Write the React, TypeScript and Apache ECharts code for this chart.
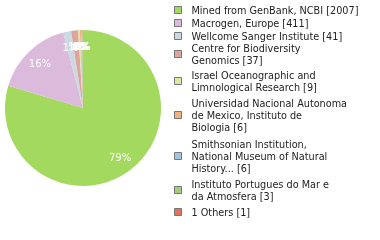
import React, { useEffect, useRef } from "react";
import * as echarts from "echarts";

const categories = [
  "Mined from GenBank, NCBI",
  "Macrogen, Europe",
  "Wellcome Sanger Institute",
  "Centre for Biodiversity\nGenomics",
  "Israel Oceanographic and\nLimnological Research",
  "Universidad Nacional Autonoma\nde Mexico, Instituto de\nBiologia",
  "Smithsonian Institution,\nNational Museum of Natural\nHistory...",
  "Instituto Portugues do Mar e\nda Atmosfera",
  "1 Others",
];
const values = [2007, 411, 41, 37, 9, 6, 6, 3, 1];
const colors = [
  "#a2d95e",
  "#dcbadc",
  "#cad9e4",
  "#dea59b",
  "#dde6a2",
  "#f2b07b",
  "#a4c4e6",
  "#a3cc7b",
  "#de7459",
];
const legendTops = [4, 17, 30, 42, 69, 97, 138, 178, 206];

export default function App() {
  const ref = useRef<HTMLDivElement>(null);
  useEffect(() => {
    if (!ref.current) return;
    const chart = echarts.init(ref.current, undefined, { renderer: "svg" });
    const data = categories.map((n, i) => ({
      name: n,
      value: values[i],
      itemStyle: { color: colors[i] },
    }));
    const legends = categories.map((n, i) => ({
      orient: "vertical",
      left: 174,
      top: legendTops[i],
      padding: 0,
      data: [n],
      selectedMode: false,
      icon: "rect",
      itemWidth: 7,
      itemHeight: 7,
      itemStyle: { borderColor: "#777", borderWidth: 1 },
      formatter: (name: string) => `${name} [${values[categories.indexOf(name)]}]`,
      textStyle: {
        fontFamily: "DejaVu Sans",
        fontSize: 9.7,
        color: "#222",
        lineHeight: 12,
        align: "left",
        padding: [0, 0, 0, 5],
      },
    }));
    chart.setOption({
      animation: false,
      legend: legends,
      series: [
        {
          type: "pie",
          center: [83, 108],
          radius: [0, 78],
          startAngle: 90,
          clockwise: true,
          label: { show: false },
          labelLine: { show: false },
          itemStyle: { borderWidth: 0 },
          emphasis: { disabled: true },
          data,
        },
        {
          type: "pie",
          center: [83, 108],
          radius: [40, 78],
          startAngle: 90,
          clockwise: true,
          silent: true,
          avoidLabelOverlap: false,
          itemStyle: { color: "rgba(0,0,0,0)", borderWidth: 0 },
          labelLayout: { hideOverlap: false },
          label: {
            show: true,
            position: "inside",
            color: "#fff",
            fontFamily: "DejaVu Sans",
            fontSize: 10,
            formatter: (p: any) => `${Math.floor(p.percent)}%`,
          },
          labelLine: { show: false },
          emphasis: { disabled: true },
          data: categories.map((n, i) => ({ name: n, value: values[i] })),
        },
      ],
    });
    return () => chart.dispose();
  }, []);
  return (
    <div
      ref={ref}
      style={{ position: "fixed", left: 0, top: 0, width: 380, height: 240 }}
    />
  );
}
